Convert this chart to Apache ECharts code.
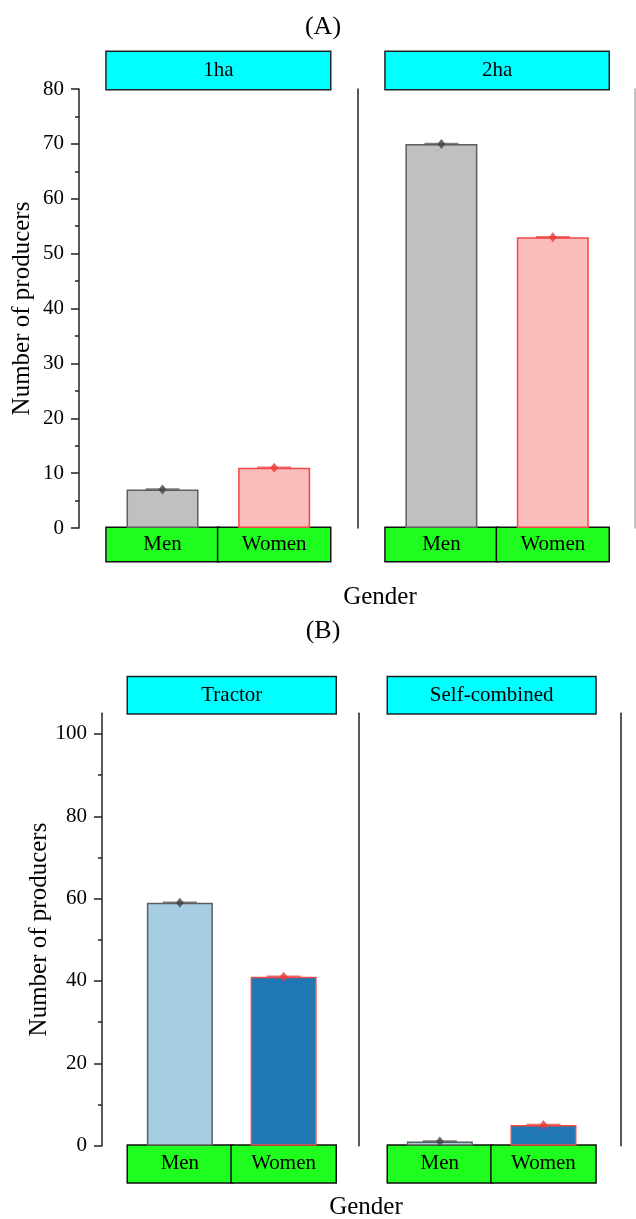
<!DOCTYPE html>
<html>
<head>
<meta charset="utf-8">
<script src="https://cdn.jsdelivr.net/npm/echarts@6/dist/echarts.min.js"></script>
<style>
html,body{margin:0;padding:0;background:#fff}
#main{width:636px;height:1219px}
</style>
</head>
<body>
<div id="main"></div>
<script>
// data
var genders = ['Men', 'Women'];
var sizeCats = ['1ha', '2ha'];
var sizeMen = [7, 70];
var sizeWomen = [11, 53];
var machCats = ['Tractor', 'Self-combined'];
var machMen = [59, 1];
var machWomen = [41, 5];
var ticksA = [0, 10, 20, 30, 40, 50, 60, 70, 80];
var minorA = [5, 15, 25, 35, 45, 55, 65, 75];
var ticksB = [0, 20, 40, 60, 80, 100];
var minorB = [10, 30, 50, 70, 90];

var font = '"Liberation Serif", "Times New Roman", serif';
var fs = 21;      // tick / box labels
var fsTitle = 25; // axis titles

// panel layout (pixels)
var panels = [
    {cat: sizeCats[0], men: sizeMen[0], women: sizeWomen[0], left: 106.7, width: 223.3, top: 89, height: 439,
        max: 80, ticks: ticksA, minor: minorA, leftOff: 27.7, rightOff: 28, rightColor: '#222', showY: true, nameGap: 44,
        barW: 72, boxH: 33, headH: 37, fill: ['#c0c0c0', '#fbbcbc']},
    {cat: sizeCats[1], men: sizeMen[1], women: sizeWomen[1], left: 385.7, width: 222.8, top: 89, height: 439,
        max: 80, ticks: ticksA, minor: minorA, leftOff: 0, rightOff: 26.5, rightColor: '#b0b0b0', showY: false,
        barW: 72, boxH: 33, headH: 37, fill: ['#c0c0c0', '#fbbcbc']},
    {cat: machCats[0], men: machMen[0], women: machWomen[0], left: 128, width: 207.5, top: 713.3, height: 432.4,
        max: 105, ticks: ticksB, minor: minorB, leftOff: 26, rightOff: 23.1, rightColor: '#222', showY: true, nameGap: 49,
        barW: 66, boxH: 36.5, headH: 36, fill: ['#a6cee3', '#1f78b4']},
    {cat: machCats[1], men: machMen[1], women: machWomen[1], left: 388, width: 207.3, top: 713.3, height: 432.4,
        max: 105, ticks: ticksB, minor: minorB, leftOff: 0, rightOff: 25.5, rightColor: '#222', showY: false,
        barW: 66, boxH: 36.5, headH: 36, fill: ['#a6cee3', '#1f78b4']}
];
var edge = ['#5e5e5e', '#f04848'];
var dot = ['#444444', '#e83c3c'];

var grid = [], xAxis = [], yAxis = [], series = [];
panels.forEach(function (p, i) {
    grid.push({left: p.left, top: p.top, width: p.width, height: p.height, containLabel: false, outerBoundsMode: 'none'});
    // bottom: green gender boxes
    xAxis.push({
        type: 'category', gridIndex: i, data: genders, position: 'bottom',
        axisLine: {show: false}, axisTick: {show: false},
        axisLabel: {
            interval: 0, margin: 0, color: '#000', fontFamily: font, fontSize: fs,
            backgroundColor: '#1efd1e', borderColor: '#111', borderWidth: 1.5,
            width: p.width / 2, height: p.boxH, lineHeight: p.boxH, align: 'center', padding: 0
        }
    });
    // top: cyan header
    xAxis.push({
        type: 'category', gridIndex: i, data: [p.cat], position: 'top',
        axisLine: {show: false}, axisTick: {show: false},
        axisLabel: {
            interval: 0, margin: 0, color: '#000', fontFamily: font, fontSize: fs,
            backgroundColor: '#00ffff', borderColor: '#1a2626', borderWidth: 1.5,
            width: p.width, height: p.headH, lineHeight: p.headH, align: 'center', padding: 0
        }
    });
    var base = yAxis.length;
    yAxis.push({
        type: 'value', gridIndex: i, min: 0, max: p.max, position: 'left', offset: p.leftOff,
        show: p.showY,
        name: 'Number of producers', nameLocation: 'middle', nameGap: p.nameGap,
        nameTextStyle: {fontFamily: font, fontSize: fsTitle, color: '#000'},
        axisLine: {show: true, lineStyle: {color: '#222', width: 1.5}},
        axisTick: {show: true, inside: false, length: 8, customValues: p.ticks, lineStyle: {color: '#222', width: 1.5}},
        axisLabel: {margin: 15, customValues: p.ticks, fontFamily: font, fontSize: fs, color: '#000'},
        splitLine: {show: false}
    });
    // minor ticks
    yAxis.push({
        type: 'value', gridIndex: i, min: 0, max: p.max, position: 'left', offset: p.leftOff,
        show: p.showY,
        axisLine: {show: false},
        axisTick: {show: true, length: 4, customValues: p.minor, lineStyle: {color: '#222', width: 1.5}},
        axisLabel: {show: false}, splitLine: {show: false}
    });
    // right frame line
    yAxis.push({
        type: 'value', gridIndex: i, min: 0, max: p.max, position: 'right', offset: p.rightOff,
        axisLine: {show: true, lineStyle: {color: p.rightColor, width: 1.5}},
        axisTick: {show: false}, axisLabel: {show: false}, splitLine: {show: false}
    });

    var vals = [p.men, p.women];
    series.push({
        type: 'bar', xAxisIndex: i * 2, yAxisIndex: base, barWidth: p.barW,
        data: vals.map(function (v, k) {
            return {value: v, itemStyle: {color: p.fill[k], borderColor: edge[k], borderWidth: 1.5}};
        })
    });
    // error caps
    series.push({
        type: 'scatter', xAxisIndex: i * 2, yAxisIndex: base, symbol: 'rect', symbolSize: [34, 2.5],
        data: vals.map(function (v, k) { return {value: v, itemStyle: {color: edge[k]}}; })
    });
    series.push({
        type: 'scatter', xAxisIndex: i * 2, yAxisIndex: base, symbol: 'diamond', symbolSize: [8, 10],
        data: vals.map(function (v, k) { return {value: v, itemStyle: {color: dot[k]}}; })
    });
});

function label(txt, x, y, size) {
    return {type: 'text', x: x, y: y, style: {text: txt, fontFamily: font, fontSize: size, fill: '#000',
        textAlign: 'center', textVerticalAlign: 'middle'}};
}

var chart = echarts.init(document.getElementById('main'));
chart.setOption({
    animation: false,
    backgroundColor: '#fff',
    grid: grid,
    xAxis: xAxis,
    yAxis: yAxis,
    series: series,
    graphic: [
        label('(A)', 323, 27, 26),
        label('Gender', 380, 597, fsTitle),
        label('(B)', 323, 631, 26),
        label('Gender', 366, 1207, fsTitle)
    ]
});
</script>
</body>
</html>
